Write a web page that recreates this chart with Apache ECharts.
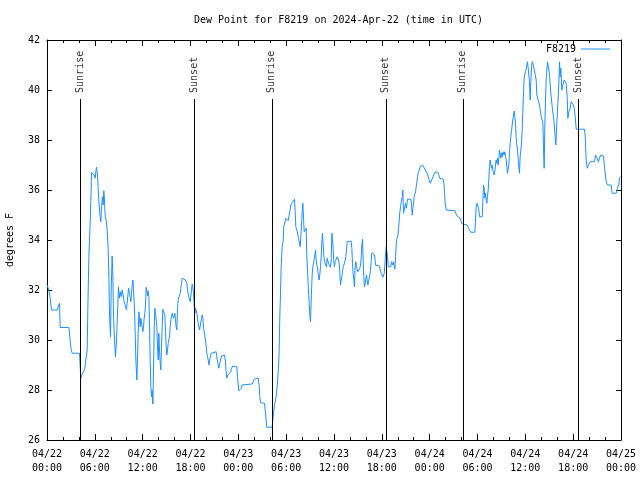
<!DOCTYPE html>
<html>
<head>
<meta charset="utf-8">
<script src="https://cdn.jsdelivr.net/npm/echarts@6/dist/echarts.min.js"></script>
<style>
html,body{margin:0;padding:0;background:#fff;}
#chart{width:640px;height:480px;}
</style>
</head>
<body>
<div id="chart"></div>
<script>
// hours since 2024-04-22 00:00 UTC
var hours = [
0.00,0.23,0.40,0.56,1.28,1.40,1.57,1.65,2.74,2.82,2.91,3.03,3.16,4.08,4.16,4.24,4.37,4.58,4.75,4.87,
5.04,5.12,5.25,5.42,5.54,5.58,5.79,5.92,6.04,6.13,6.21,6.33,6.42,6.50,6.63,6.75,6.84,6.96,7.05,7.13,
7.21,7.30,7.42,7.55,7.67,7.76,7.84,7.97,8.05,8.17,8.26,8.34,8.47,8.59,8.72,8.84,8.97,9.05,9.18,9.30,
9.43,9.55,9.68,9.85,9.97,
10.23,10.35,10.43,10.52,10.60,10.69,10.77,10.85,10.94,11.02,11.15,11.27,11.35,11.44,11.52,11.61,11.69,11.77,11.86,11.94,
12.02,12.11,12.19,12.27,12.36,12.44,12.53,12.61,12.69,12.78,12.86,12.94,13.03,13.11,13.19,13.28,13.36,13.45,13.53,13.61,
13.70,13.78,13.86,13.95,14.03,14.11,14.20,14.28,14.36,14.45,14.53,14.70,14.78,14.87,14.95,15.03,15.12,15.20,15.28,15.37,
15.45,15.54,15.62,15.70,15.79,15.87,15.95,16.04,16.12,16.20,16.29,16.37,16.46,16.62,16.71,16.79,16.87,16.96,17.21,17.38,
17.54,17.63,17.71,17.79,17.88,17.96,18.04,18.13,18.21,18.30,18.38,18.46,18.55,18.63,18.71,18.80,18.88,18.96,19.05,19.13,
19.21,19.30,19.38,19.47,19.55,19.63,19.72,19.80,19.88,19.97,20.05,20.14,20.22,20.30,
20.38,20.46,20.59,20.71,21.22,21.30,21.43,21.55,21.63,21.76,21.89,22.26,22.39,22.47,22.55,22.68,22.80,23.06,23.14,23.31,
23.81,23.89,23.98,24.06,24.23,24.35,24.48,24.56,25.73,25.86,25.98,26.11,26.48,26.61,26.69,26.78,27.28,27.36,27.49,27.57,
28.24,28.32,28.45,28.58,28.74,28.87,28.95,29.04,29.12,29.20,29.29,29.37,29.50,29.62,29.70,29.87,29.96,30.08,30.16,30.25,
30.33,30.46,30.58,30.71,30.83,
30.96,31.05,31.13,31.21,31.34,31.46,31.55,31.67,31.76,31.84,31.92,32.01,32.09,32.18,32.26,32.38,32.51,32.59,32.72,32.80,
32.89,32.97,33.05,33.14,33.26,33.35,33.43,33.51,33.60,33.68,33.76,33.85,33.97,34.06,34.14,34.22,34.31,34.39,34.47,34.56,
34.64,34.73,34.81,34.89,34.98,35.06,35.14,35.23,35.31,35.39,35.48,35.56,35.65,35.73,35.81,35.90,35.98,36.06,36.15,36.31,
36.40,36.48,36.57,36.65,36.73,36.82,36.90,36.98,37.07,37.15,37.32,37.40,37.49,37.57,37.65,37.74,38.15,38.24,38.32,38.41,
38.49,38.57,38.66,38.74,38.82,38.91,38.99,39.07,39.16,39.24,39.33,39.41,39.49,39.58,39.66,39.74,39.83,39.91,40.00,40.08,
40.16,40.25,40.33,40.41,40.50,40.58,40.66,40.75,40.83,
40.96,41.09,41.21,41.71,41.80,41.92,42.01,42.13,42.21,42.30,42.38,42.47,42.55,42.63,42.72,42.80,43.13,43.22,43.30,43.39,
43.47,43.55,43.64,43.72,43.80,43.89,44.01,44.10,44.18,44.26,44.35,44.47,44.56,44.64,44.72,44.81,44.89,44.97,45.06,45.14,
45.22,45.64,45.73,45.81,45.89,45.98,46.06,46.14,46.23,46.31,46.40,46.48,46.56,46.69,46.81,46.94,47.11,47.23,47.40,47.57,
47.73,47.90,48.07,48.19,48.32,48.44,48.61,48.74,48.99,49.11,49.24,49.70,49.78,49.87,49.95,50.08,50.28,51.16,
51.41,51.66,51.83,51.95,52.08,52.24,52.70,52.83,53.00,53.16,53.67,53.75,53.83,53.96,54.08,54.17,54.25,54.59,54.67,54.75,
54.84,54.92,55.00,55.09,55.17,55.25,55.34,55.42,55.50,55.59,55.67,55.76,55.84,55.92,56.01,56.09,56.17,56.26,56.34,56.42,
56.51,56.59,56.68,56.76,56.84,56.93,57.01,57.09,57.18,57.26,57.34,57.43,57.51,57.60,57.68,57.76,57.85,57.93,58.01,58.10,
58.18,58.26,58.35,58.43,58.52,58.60,58.68,58.77,58.85,58.93,59.02,59.10,59.18,59.27,59.35,59.44,59.52,59.60,59.69,59.77,
59.85,59.94,60.02,60.10,60.19,60.27,60.36,60.44,60.52,60.61,60.69,60.77,60.86,60.94,61.03,
61.15,61.36,61.44,61.78,61.99,62.20,62.28,62.36,62.45,62.61,62.78,62.95,63.03,63.16,63.37,63.58,63.74,63.83,63.95,64.08,
64.20,64.29,64.37,64.45,64.58,64.70,64.87,65.00,65.12,65.25,65.33,65.46,65.63,65.75,65.88,66.04,66.17,66.29,66.38,67.42,
67.51,67.63,67.76,67.93,68.13,68.68,68.80,69.01,69.18,69.30,69.43,69.64,69.81,69.93,70.14,70.31,70.77,70.89,71.40,71.56,
71.73,71.81,71.94
];
// dew point, degrees F
var dewPoint = [
32.2,32.0,31.7,31.2,31.2,31.33,31.47,30.5,30.5,30.3,29.93,29.63,29.47,29.47,28.93,28.47,28.6,28.73,28.87,29.2,
29.6,31.2,33.33,34.73,36.03,36.69,36.69,36.6,36.47,36.73,36.91,36.6,36.07,35.53,35.07,34.73,35.33,35.73,35.4,35.97,
35.6,34.93,34.8,34.37,33.67,32.56,31.0,30.13,32.0,33.36,32.6,31.0,29.97,29.33,30.0,30.0,32.13,31.67,31.93,31.73,
32.0,31.8,31.53,31.33,31.2,
32.07,31.87,31.93,31.53,31.87,32.2,32.4,32.07,31.47,30.8,29.2,28.4,29.2,30.27,31.13,31.07,30.53,30.87,30.8,30.53,
30.33,30.53,30.87,31.07,31.4,32.11,31.93,31.76,31.97,31.73,30.53,29.2,28.13,27.73,28.0,27.44,28.8,30.53,31.27,31.07,
30.8,30.53,29.73,29.2,30.27,29.6,29.07,28.8,29.73,30.53,31.23,31.23,31.0,30.27,29.73,29.4,29.6,29.87,30.0,30.13,
30.53,30.8,30.93,31.07,31.0,30.87,30.93,31.07,30.8,30.53,30.4,31.27,31.63,31.63,31.87,32.07,32.27,32.47,32.47,32.4,
32.27,32.0,31.87,31.73,31.67,31.53,31.6,32.0,32.24,32.13,31.87,31.4,31.07,31.27,31.33,31.07,31.07,30.67,30.53,30.4,
30.47,30.47,30.87,31.0,30.87,30.47,30.33,30.33,30.0,29.73,29.47,29.33,29.2,29.0,
29.07,29.27,29.47,29.53,29.53,29.33,29.07,28.87,29.0,29.2,29.36,29.4,29.13,28.73,28.47,28.6,28.67,28.73,28.87,28.96,
28.93,28.53,28.24,27.97,27.97,28.07,28.2,28.24,28.24,28.33,28.43,28.48,28.48,28.2,27.73,27.49,27.47,27.23,26.8,26.51,
26.51,26.8,27.2,27.47,27.73,28.13,28.47,28.93,29.53,30.93,31.87,32.91,33.73,33.93,34.53,34.6,34.87,34.87,34.8,34.77,
34.93,35.13,35.4,35.44,35.53,
35.47,35.63,35.13,34.53,34.4,34.33,34.07,34.0,33.73,34.13,34.6,35.13,35.47,34.87,34.33,34.4,34.47,33.33,32.53,31.93,
31.47,31.0,30.73,31.6,32.6,32.93,33.07,33.13,33.4,33.6,33.2,33.0,32.8,32.53,32.4,32.6,32.93,33.33,33.93,34.27,
33.8,33.33,33.13,33.2,33.07,32.93,33.27,33.2,33.07,33.13,33.0,32.91,33.2,34.27,34.07,33.6,33.13,32.93,33.13,33.2,
33.33,33.4,33.2,33.07,32.67,32.2,32.4,32.53,32.73,32.93,33.07,33.2,33.33,33.6,33.93,33.96,33.96,33.67,33.07,32.6,
32.4,32.13,33.0,33.13,32.93,32.87,32.73,32.67,32.8,32.87,33.0,33.27,33.8,34.03,33.2,32.53,32.13,32.27,32.47,32.6,
32.4,32.2,32.33,32.47,32.6,32.8,33.13,33.49,33.53,
33.47,33.4,33.0,32.96,32.8,32.67,32.6,32.51,32.51,32.67,33.0,33.47,33.73,33.53,33.33,32.93,32.93,33.13,33.2,33.0,
33.13,32.93,32.83,33.33,33.8,34.07,34.16,34.47,34.8,35.13,35.33,35.6,35.73,36.0,35.07,35.2,35.33,35.47,35.27,35.4,
35.63,35.63,35.4,35.0,35.27,35.47,35.73,35.84,35.93,36.13,36.33,36.53,36.69,36.8,36.93,37.0,37.0,36.93,36.83,36.73,
36.64,36.43,36.27,36.2,36.33,36.53,36.69,36.73,36.73,36.64,36.47,36.43,36.27,35.87,35.47,35.2,35.17,35.17,
34.97,34.93,34.87,34.73,34.64,34.6,34.6,34.53,34.4,34.31,34.31,34.8,35.33,35.47,35.53,35.2,34.93,34.93,35.53,36.2,
36.07,35.67,35.87,35.6,35.47,35.73,36.0,36.4,36.93,37.2,37.0,36.87,37.0,36.8,36.69,36.6,36.73,37.0,37.2,37.07,
37.27,37.0,37.27,37.6,37.53,37.27,37.47,37.33,37.53,37.6,37.4,37.53,37.33,37.2,36.93,36.67,36.6,37.0,37.47,37.87,
38.13,38.33,38.6,38.8,39.0,39.16,38.93,38.67,38.13,37.8,37.6,37.27,36.93,36.67,37.33,37.6,37.87,38.4,39.2,39.87,
40.47,40.64,40.73,40.8,41.0,41.13,41.2,41.07,40.33,39.6,40.33,40.93,41.13,41.07,40.96,
41.0,40.4,39.8,39.4,38.93,38.67,37.73,36.87,38.67,40.4,41.13,41.13,40.67,40.0,39.33,38.8,38.13,37.8,38.67,39.47,
40.27,41.13,40.53,40.87,40.0,40.2,40.4,40.47,40.27,39.73,38.87,39.13,39.27,39.53,39.47,39.4,39.2,38.8,38.43,38.43,
38.13,37.2,36.87,37.0,37.13,37.13,37.4,37.27,37.13,37.27,37.4,37.44,37.36,36.93,36.33,36.2,36.2,35.87,35.87,36.07,
36.2,36.47,36.53
];
var sunNames = ['Sunrise','Sunset','Sunrise','Sunset','Sunrise','Sunset'];
var sunHours = [4.15, 18.45, 28.2, 42.5, 52.15, 66.6];
var yTicks = [26, 28, 30, 32, 34, 36, 38, 40, 42];

var FONT = 'DejaVu Sans Mono';
var SUN_TOP = 39.64;

var series = hours.map(function (h, i) { return [h, dewPoint[i]]; });
var sunPoints = sunHours.map(function (h, i) { return [h, SUN_TOP, sunNames[i]]; });

function fmtX(v) {
  var d = 22 + Math.floor(v / 24);
  var hh = Math.round(v % 24);
  return '04/' + d + '\n' + (hh < 10 ? '0' : '') + hh + ':00';
}

var chart = echarts.init(document.getElementById('chart'), null, {renderer: 'canvas'});
var axisCommon = {
  type: 'value', min: 0, max: 72, interval: 6,
  axisLine: {show: true, onZero: false, lineStyle: {color: '#000', width: 1}},
  axisTick: {show: true, inside: true, length: 6, lineStyle: {color: '#000'}},
  minorTick: {show: true, splitNumber: 3, length: 3, lineStyle: {color: '#000'}},
  splitLine: {show: false}
};
var yCommon = {
  type: 'value', min: yTicks[0], max: yTicks[yTicks.length - 1], interval: 2,
  axisLine: {show: true, onZero: false, lineStyle: {color: '#000', width: 1}},
  axisTick: {show: true, inside: true, length: 5, lineStyle: {color: '#000'}},
  splitLine: {show: false}
};
chart.setOption({
  animation: false,
  backgroundColor: '#fff',
  title: {
    text: 'Dew Point for F8219 on 2024-Apr-22 (time in UTC)',
    left: 189, top: 10,
    textStyle: {fontFamily: FONT, fontSize: 10, fontWeight: 'normal', color: '#000'}
  },
  legend: {
    data: [{name: 'F8219', icon: 'rect'}], right: 30, top: 44, align: 'right',
    itemWidth: 29, itemHeight: 1, padding: 0,
    textStyle: {fontFamily: FONT, fontSize: 10, color: '#000'}
  },
  grid: {left: 47, right: 19, top: 40, bottom: 40, containLabel: false, outerBoundsMode: 'none'},
  xAxis: [
    Object.assign({}, axisCommon, {
      position: 'bottom',
      axisLabel: {show: true, margin: 7, formatter: fmtX, lineHeight: 14,
        fontFamily: FONT, fontSize: 10, color: '#000'}
    }),
    Object.assign({}, axisCommon, {position: 'top', axisLabel: {show: false}})
  ],
  yAxis: [
    Object.assign({}, yCommon, {
      position: 'left',
      name: 'degrees F', nameLocation: 'middle', nameRotate: 90, nameGap: 32,
      nameTextStyle: {fontFamily: FONT, fontSize: 10, color: '#000'},
      axisLabel: {show: true, margin: 7, fontFamily: FONT, fontSize: 10, color: '#000'}
    }),
    Object.assign({}, yCommon, {position: 'right', axisLabel: {show: false}})
  ],
  series: [
    {
      name: 'F8219', type: 'line', data: series, symbol: 'none',
      xAxisIndex: 0, yAxisIndex: 0,
      lineStyle: {color: '#1e90ff', width: 1}, itemStyle: {color: '#1e90ff'},
      z: 3,
      markLine: {
        silent: true, symbol: ['none', 'none'], animation: false,
        label: {show: false},
        lineStyle: {color: '#000', width: 1, type: 'solid'},
        data: sunHours.map(function (h) { return [{coord: [h, yTicks[0]]}, {coord: [h, SUN_TOP]}]; })
      }
    },
    {
      name: 'sun', type: 'scatter', data: sunPoints, symbolSize: 0.1,
      xAxisIndex: 0, yAxisIndex: 0, silent: true,
      itemStyle: {color: 'rgba(0,0,0,0)'},
      label: {
        show: true, position: 'top', distance: 6, rotate: 90,
        align: 'left', verticalAlign: 'middle',
        formatter: function (p) { return p.value[2]; },
        fontFamily: FONT, fontSize: 10, color: '#000'
      }
    }
  ]
});
</script>
</body>
</html>
